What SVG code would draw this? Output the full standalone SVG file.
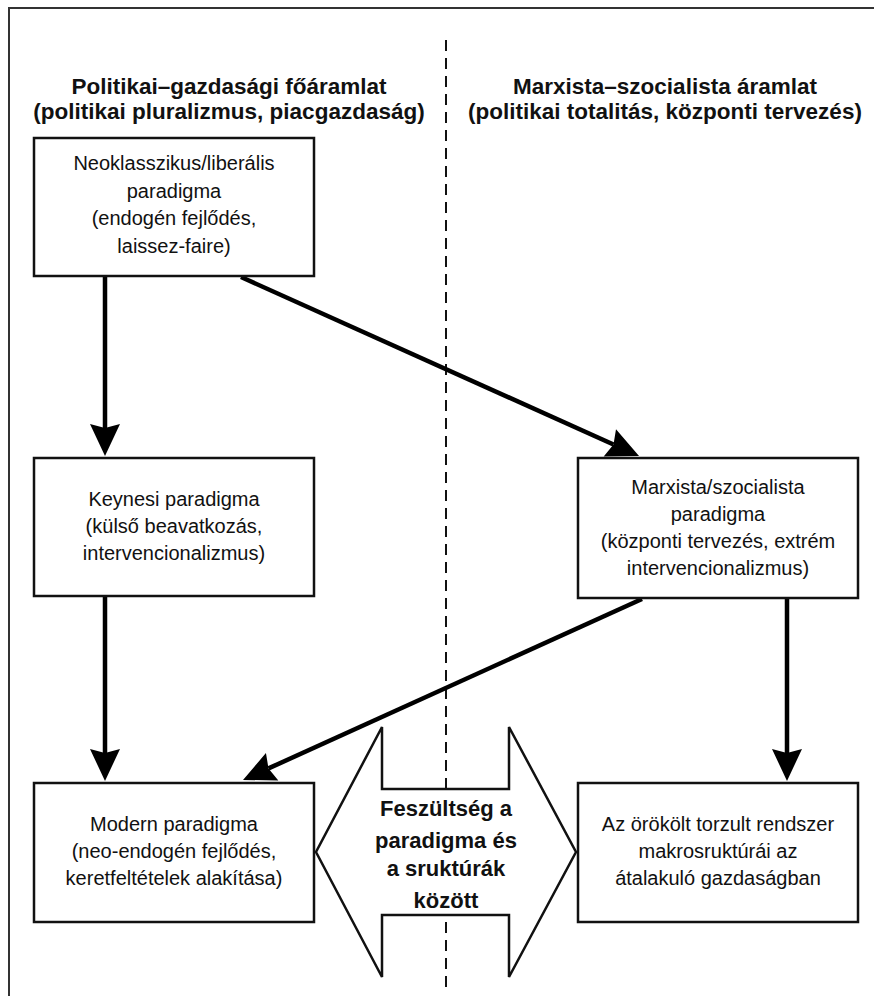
<svg xmlns="http://www.w3.org/2000/svg" width="874" height="996" viewBox="0 0 874 996">
<style>
text{font-family:"Liberation Sans",Arial,sans-serif;fill:#111;text-anchor:middle}
.h{font-size:22.5px;font-weight:bold}
.b{font-size:20px}
.t{font-size:22px;font-weight:bold}
.box{fill:#fff;stroke:#111;stroke-width:2.5}
.conn{fill:none;stroke:#000;stroke-width:4.5}
</style>
<defs>
<marker id="ah" markerUnits="userSpaceOnUse" markerWidth="40" markerHeight="40" refX="4" refY="0" orient="auto" overflow="visible">
<path d="M32,0 L0,-15 L4,0 L0,15 Z" fill="#000"/>
</marker>
</defs>
<rect width="874" height="996" fill="#fff"/>
<rect x="9" y="8" width="900" height="1020" fill="none" stroke="#333" stroke-width="2"/>
<line id="divider" x1="446" y1="40" x2="446" y2="990" stroke="#111" stroke-width="2" stroke-dasharray="11,7"/>
<g id="header-left">
<text class="h" x="229" y="94">Politikai–gazdasági főáramlat</text>
<text class="h" x="229" y="119">(politikai pluralizmus, piacgazdaság)</text>
</g>
<g id="header-right">
<text class="h" x="665" y="94">Marxista–szocialista áramlat</text>
<text class="h" x="665" y="119">(politikai totalitás, központi tervezés)</text>
</g>
<g id="connectors">
<line class="conn" x1="105" y1="277" x2="105" y2="428" marker-end="url(#ah)"/>
<line class="conn" x1="105" y1="597" x2="105" y2="753" marker-end="url(#ah)"/>
<line class="conn" x1="787" y1="599" x2="787" y2="753" marker-end="url(#ah)"/>
<line class="conn" x1="241" y1="277" x2="613.5" y2="444.5" marker-end="url(#ah)"/>
<line class="conn" x1="642" y1="599" x2="268.5" y2="768.4" marker-end="url(#ah)"/>
</g>
<g id="neoklasszikus">
<rect class="box" x="34" y="138" width="280" height="138"/>
<text class="b" x="174" y="170">Neoklasszikus/liberális</text>
<text class="b" x="174" y="197.5">paradigma</text>
<text class="b" x="174" y="225">(endogén fejlődés,</text>
<text class="b" x="174" y="252.5">laissez-faire)</text>
</g>
<g id="keynesi">
<rect class="box" x="34" y="458" width="280" height="138"/>
<text class="b" x="174" y="506">Keynesi paradigma</text>
<text class="b" x="174" y="533">(külső beavatkozás,</text>
<text class="b" x="174" y="560">intervencionalizmus)</text>
</g>
<g id="marxista">
<rect class="box" x="578" y="458" width="280" height="140"/>
<text class="b" x="718" y="494">Marxista/szocialista</text>
<text class="b" x="718" y="521">paradigma</text>
<text class="b" x="718" y="548">(központi tervezés, extrém</text>
<text class="b" x="718" y="575">intervencionalizmus)</text>
</g>
<g id="modern">
<rect class="box" x="34" y="783" width="280" height="139"/>
<text class="b" x="174" y="831">Modern paradigma</text>
<text class="b" x="174" y="858">(neo-endogén fejlődés,</text>
<text class="b" x="174" y="885">keretfeltételek alakítása)</text>
</g>
<g id="orokolt">
<rect class="box" x="578" y="783" width="280" height="139"/>
<text class="b" x="718" y="831">Az örökölt torzult rendszer</text>
<text class="b" x="718" y="858">makrosruktúrái az</text>
<text class="b" x="718" y="885">átalakuló gazdaságban</text>
</g>
<g id="feszultseg">
<path d="M382,727 L382,789 L509,789 L509,727 L576,852 L509,977 L509,915 L382,915 L382,977 L316,852 Z" fill="#fff" stroke="#111" stroke-width="2.5" stroke-linejoin="miter"/>
<text class="t" x="446" y="816">Feszültség a</text>
<text class="t" x="446" y="848">paradigma és</text>
<text class="t" x="446" y="876">a sruktúrák</text>
<text class="t" x="446" y="908">között</text>
</g>
</svg>
